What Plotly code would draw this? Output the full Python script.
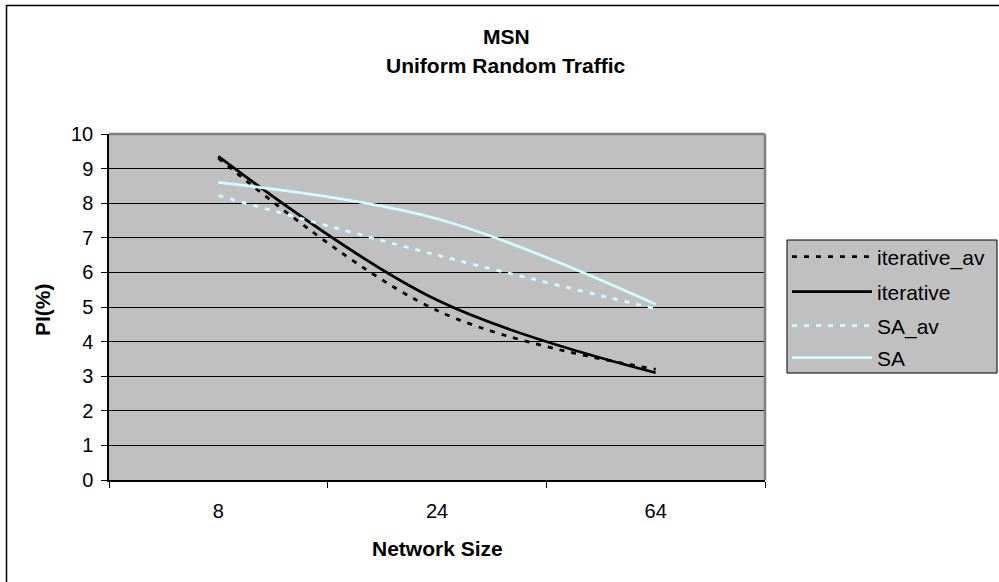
import plotly.graph_objects as go

categories = ["8", "24", "64"]
iterative_av = [9.3, 4.9, 3.2]
iterative = [9.35, 5.2, 3.1]
sa_av = [8.22, 6.5, 4.95]
sa = [8.6, 7.55, 5.08]

L, R, T, B = 109, 234, 134, 102
W, H = 999, 582
PW, PH = W - L - R, H - T - B

def px_x(x):
    return (x - L) / PW

def px_y(y):
    return (H - B - y) / PH

FONT = "Liberation Sans, Arial, sans-serif"
CYAN = "#CCFFFF"

series = [
    ("iterative_av", iterative_av, "black", "5px,7px", "legend", 257),
    ("iterative", iterative, "black", None, "legend2", 292),
    ("SA_av", sa_av, CYAN, "5px,7px", "legend3", 326),
    ("SA", sa, CYAN, None, "legend4", 358),
]

fig = go.Figure()
legends = {}
for name, vals, color, dash, leg, ypx in series:
    line = dict(color=color, width=2.8, shape="spline")
    if dash:
        line["dash"] = dash
    fig.add_trace(go.Scatter(x=categories, y=vals, name=name, mode="lines",
                             line=line, legend=leg))
    legends[leg] = dict(
        x=px_x(787), y=px_y(ypx), xanchor="left", yanchor="middle",
        bgcolor="rgba(0,0,0,0)", borderwidth=0,
        font=dict(family=FONT, size=21, color="black"),
        itemwidth=80,
    )

fig.update_layout(
    width=W, height=H,
    margin=dict(l=L, r=R, t=T, b=B, autoexpand=False),
    paper_bgcolor="white",
    plot_bgcolor="#C0C0C0",
    font=dict(family=FONT, size=20, color="black"),
    showlegend=True,
    xaxis=dict(
        type="category", range=[-0.5, 2.5],
        showgrid=False, showline=True, linecolor="black", linewidth=1.5,
        ticks="outside", ticklen=6, tickcolor="black", tickson="boundaries",
        tickfont=dict(family=FONT, size=20), ticklabelstandoff=12,
        zeroline=False,
    ),
    yaxis=dict(
        range=[0, 10], dtick=1, tick0=0,
        showgrid=True, gridcolor="black", gridwidth=1,
        showline=True, linecolor="black", linewidth=1.5,
        ticks="outside", ticklen=6, tickcolor="black",
        tickfont=dict(family=FONT, size=20), ticklabelstandoff=4,
        zeroline=False,
    ),
    shapes=[
        dict(type="line", xref="paper", yref="paper", x0=0, x1=1, y0=1, y1=1,
             line=dict(color="#808080", width=2.5), layer="above"),
        dict(type="line", xref="paper", yref="paper", x0=1, x1=1, y0=0, y1=1,
             line=dict(color="#808080", width=2.5), layer="above"),
        dict(type="rect", xref="paper", yref="paper",
             x0=px_x(6.5), x1=px_x(1010), y0=px_y(595), y1=px_y(5.5),
             line=dict(color="black", width=1.5), layer="below"),
        dict(type="rect", xref="paper", yref="paper",
             x0=px_x(787), x1=px_x(997), y0=px_y(373), y1=px_y(240),
             fillcolor="#C0C0C0", line=dict(color="black", width=1), layer="below"),
    ],
    annotations=[
        dict(text="<b>MSN</b>", xref="paper", yref="paper", x=px_x(506), y=px_y(36),
             xanchor="center", yanchor="middle", showarrow=False,
             font=dict(family=FONT, size=21)),
        dict(text="<b>Uniform Random Traffic</b>", xref="paper", yref="paper",
             x=px_x(506), y=px_y(65), xanchor="center", yanchor="middle", showarrow=False,
             font=dict(family=FONT, size=21)),
        dict(text="<b>Network Size</b>", xref="paper", yref="paper", x=px_x(437), y=px_y(548),
             xanchor="center", yanchor="middle", showarrow=False,
             font=dict(family=FONT, size=21)),
        dict(text="<b>PI(%)</b>", xref="paper", yref="paper", x=px_x(42), y=px_y(310),
             xanchor="center", yanchor="middle", showarrow=False, textangle=-90,
             font=dict(family=FONT, size=21)),
    ],
    **legends,
)

fig.write_html("out.html")
